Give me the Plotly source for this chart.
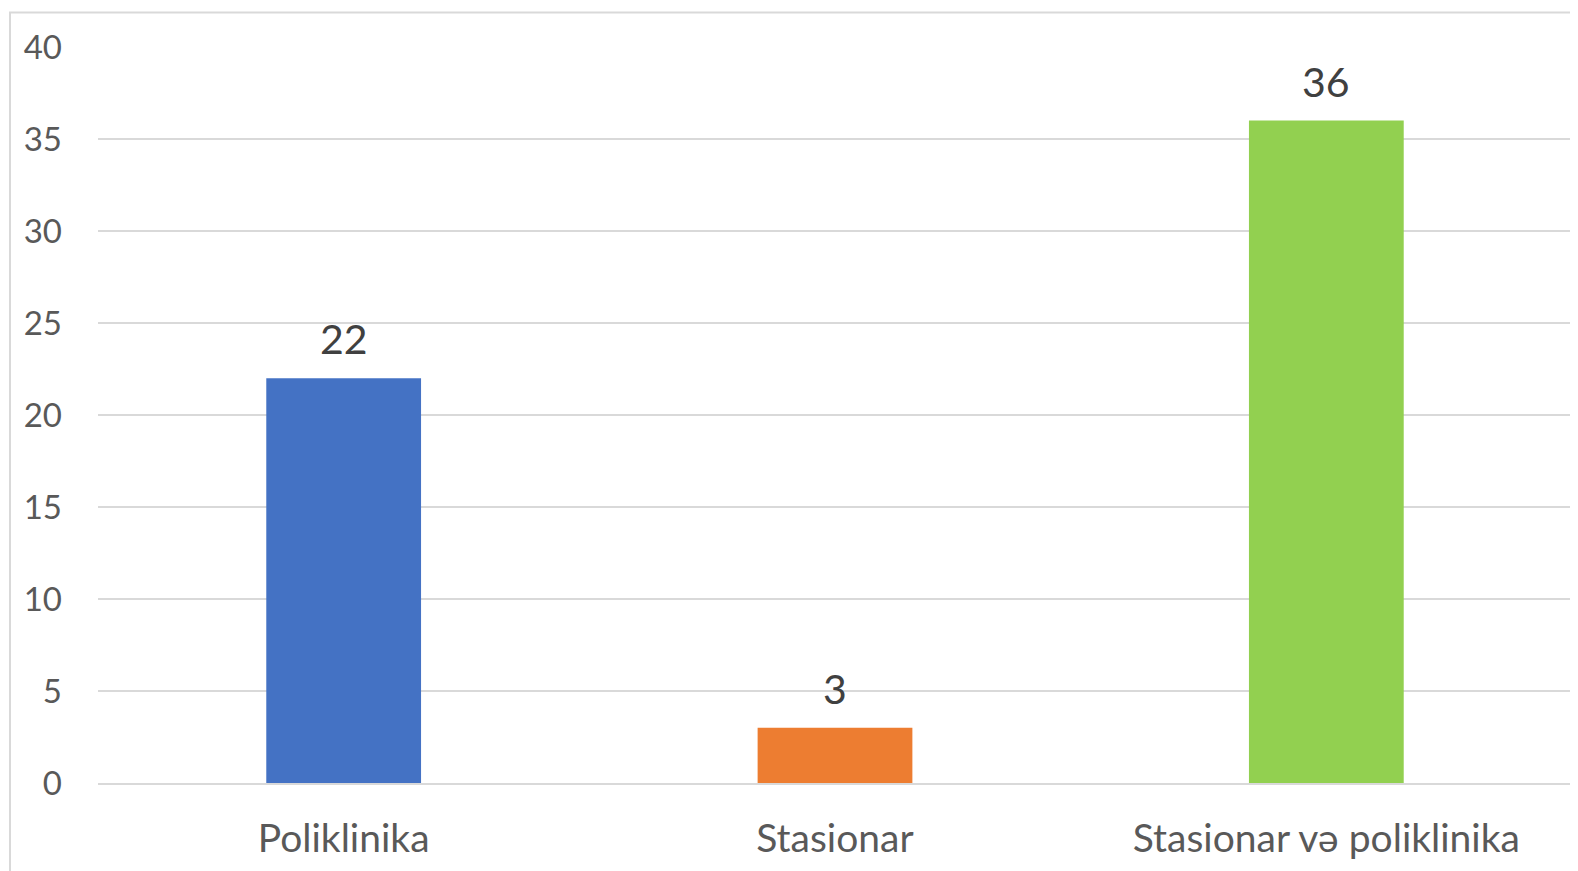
import plotly.graph_objects as go

categories = ["Poliklinika", "Stasionar", "Stasionar və poliklinika"]
values = [22, 3, 36]
colors = ["#4472C4", "#ED7D31", "#92D050"]
tick_vals = [0, 5, 10, 15, 20, 25, 30, 35, 40]

# page body has an 8px margin, so the figure starts at (8, 8)
OFF = 8
W, H = 1578 - OFF, 871 - OFF
L, R, T, B = 98 - OFF, 6, 46.5 - OFF, 87.5
pw = W - L - R
ph = H - T - B

fig = go.Figure(go.Bar(
    x=categories, y=values, marker=dict(color=colors, line=dict(width=0)),
    width=0.315, hoverinfo="x+y",
))

for c, v in zip(categories, values):
    fig.add_annotation(x=c, y=v, text=str(v), showarrow=False, yanchor="bottom",
                       yshift=13, font=dict(family="Lato", size=41, color="#404040"))

fig.update_layout(
    width=W, height=H, margin=dict(l=L, r=R, t=T, b=B),
    paper_bgcolor="white", plot_bgcolor="white", showlegend=False,
    font=dict(family="Lato", color="#595959"),
    xaxis=dict(showgrid=False, showline=True, linecolor="#d9d9d9", linewidth=2,
               ticks="", tickfont=dict(size=39, color="#595959"), ticklabelstandoff=20),
    yaxis=dict(range=[0, 40], tickvals=tick_vals, showgrid=True, gridcolor="#d9d9d9",
               gridwidth=1.5, zeroline=False, showline=False, ticks="",
               tickfont=dict(size=33, color="#595959"), ticklabelstandoff=35),
    shapes=[dict(type="rect", xref="paper", yref="paper",
                 x0=(2 - L) / pw, x1=1.02, y0=-0.2, y1=(H - B - 4) / ph,
                 line=dict(color="#d9d9d9", width=2), fillcolor="rgba(0,0,0,0)", layer="below")],
)

fig.write_html("out.html")
